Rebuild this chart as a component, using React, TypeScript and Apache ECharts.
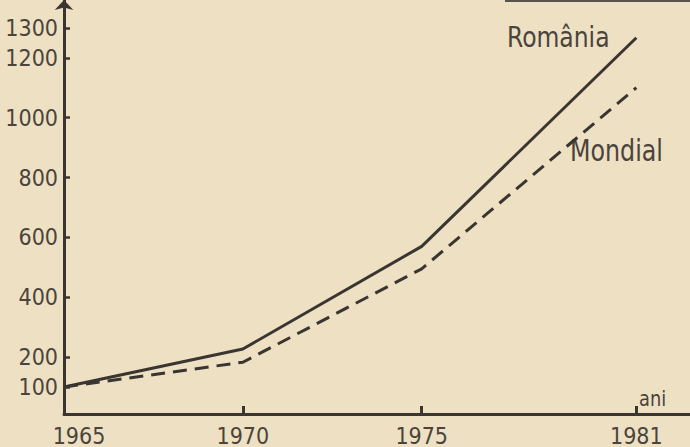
import React, { useEffect, useRef } from "react";
import * as echarts from "echarts";

const years = [1965, 1970, 1975, 1981];
const romania = [100, 227, 570, 1267];
const mondial = [100, 183, 495, 1100];
const yTickLabels = [100, 200, 400, 600, 800, 1000, 1200, 1300];
const xTickLabels = [1965, 1970, 1975, 1981];
const xTickMarks = [1970, 1975, 1981];

const ink = "#3a3531";
const labelInk = "#4a443d";
const font = "DejaVu Sans Condensed";

export default function App() {
  const ref = useRef<HTMLDivElement>(null);
  useEffect(() => {
    if (!ref.current) return;
    const chart = echarts.init(ref.current, null, { renderer: "svg" });
    chart.setOption({
      animation: false,
      backgroundColor: "#eee0c2",
      grid: { left: 64, right: 0, top: 0, bottom: 32 },
      xAxis: {
        type: "value",
        min: 1965,
        max: 1982.5,
        axisLine: { show: true, lineStyle: { color: ink, width: 3 } },
        axisTick: {
          show: true,
          inside: true,
          length: 8,
          customValues: xTickMarks,
          lineStyle: { color: ink, width: 3 },
        },
        splitLine: { show: false },
        axisLabel: {
          customValues: xTickLabels,
          margin: 10,
          color: labelInk,
          fontFamily: font,
          fontSize: 23,
          formatter: (v: number) => (v === 1965 ? "{a|" + String(v) + "}" : "{b|" + String(v) + "}"),
          rich: {
            a: { fontFamily: font, fontSize: 23, color: labelInk, padding: [0, 0, 0, 30] },
            b: { fontFamily: font, fontSize: 23, color: labelInk },
          },
        },
      },
      yAxis: {
        type: "value",
        min: 10,
        max: 1393,
        axisLine: {
          show: true,
          symbol: ["none", "arrow"],
          symbolSize: [14, 10],
          lineStyle: { color: ink, width: 3 },
        },
        axisTick: {
          show: true,
          inside: true,
          length: 6,
          customValues: yTickLabels,
          lineStyle: { color: ink, width: 2.5 },
        },
        splitLine: { show: false },
        axisLabel: {
          customValues: yTickLabels,
          margin: 6,
          color: labelInk,
          fontFamily: font,
          fontSize: 23,
          formatter: (v: number) => String(v),
        },
      },
      series: [
        {
          name: "România",
          type: "line",
          data: years.map((y, i) => [y, romania[i]]),
          symbol: "none",
          lineStyle: { color: ink, width: 3 },
        },
        {
          name: "Mondial",
          type: "line",
          data: years.map((y, i) => [y, mondial[i]]),
          symbol: "none",
          lineStyle: { color: ink, width: 3, type: [14, 8] },
        },
      ],
      graphic: [
        {
          type: "rect",
          shape: { x: 505, y: 0, width: 185, height: 2 },
          style: { fill: "#5a534c" },
        },
        {
          type: "text",
          x: 507,
          y: 23,
          scaleX: 0.9,
          style: { text: "România", font: "29px '" + font + "'", fill: labelInk },
        },
        {
          type: "text",
          x: 570,
          y: 136,
          scaleX: 0.88,
          style: { text: "Mondial", font: "30px '" + font + "'", fill: labelInk },
        },
        {
          type: "text",
          x: 639,
          y: 388,
          scaleX: 0.9,
          style: { text: "ani", font: "22px '" + font + "'", fill: labelInk },
        },
      ],
    });
    return () => chart.dispose();
  }, []);
  return <div ref={ref} style={{ width: 690, height: 447, position: "absolute", left: 0, top: 0 }} />;
}
